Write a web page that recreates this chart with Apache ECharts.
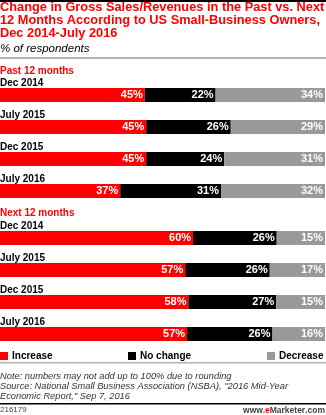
<!DOCTYPE html>
<html>
<head>
<meta charset="utf-8">
<script src="https://cdn.jsdelivr.net/npm/echarts@6/dist/echarts.min.js"></script>
<style>
  html, body { margin: 0; padding: 0; background: #fff; }
  #chart { width: 326px; height: 415px; }
</style>
</head>
<body>
<div id="chart"></div>
<script>
// Survey periods and the two question groups
const groups = ['Past 12 months', 'Next 12 months'];
const periods = ['Dec 2014', 'July 2015', 'Dec 2015', 'July 2016'];

// % of respondents, one entry per period, per group
const pastIncrease = [45, 45, 45, 37];
const pastNoChange = [22, 26, 24, 31];
const pastDecrease = [34, 29, 31, 32];
const nextIncrease = [60, 57, 58, 57];
const nextNoChange = [26, 26, 27, 26];
const nextDecrease = [15, 17, 15, 16];

const seriesNames = ['Increase', 'No change', 'Decrease'];
const colors = ['#ff0000', '#000000', '#999999'];

const FONT = '"Liberation Sans", Arial, Helvetica, sans-serif';

// Rows in drawing order: each is one stacked bar scaled to its own total
const rows = [];
[[pastIncrease, pastNoChange, pastDecrease], [nextIncrease, nextNoChange, nextDecrease]]
  .forEach((set, g) => {
    periods.forEach((p, i) => {
      rows.push({ group: g, label: p, values: set.map(arr => arr[i]) });
    });
  });

const grids = [], xAxes = [], yAxes = [], series = [];
const BAR_TOP = 88, ROW_STEP = 32, BAR_H = 14, GROUP_EXTRA = 15;

rows.forEach((row, r) => {
  const top = BAR_TOP + r * ROW_STEP + row.group * GROUP_EXTRA;
  const total = row.values.reduce((a, b) => a + b, 0);
  grids.push({
    left: 0, right: 1, top: top, height: BAR_H,
    containLabel: false, outerBoundsMode: 'none'
  });
  xAxes.push({
    type: 'value', gridIndex: r, min: 0, max: total,
    show: false
  });
  yAxes.push({
    type: 'category', gridIndex: r, data: [row.label],
    axisLine: { show: false }, axisTick: { show: false }, axisLabel: { show: false },
    splitLine: { show: false },
    name: row.label, nameLocation: 'end', nameGap: 0,
    nameTextStyle: {
      align: 'left', verticalAlign: 'bottom', fontFamily: FONT,
      fontSize: 10, fontWeight: 'bold', color: '#000', padding: 0
    }
  });
  row.values.forEach((v, k) => {
    series.push({
      name: seriesNames[k], type: 'bar', stack: 'row' + r,
      xAxisIndex: r, yAxisIndex: r,
      barWidth: BAR_H, silent: true,
      itemStyle: { color: colors[k] },
      label: {
        show: true, position: 'insideRight', distance: 2,
        formatter: '{c}%', color: '#fff', fontFamily: FONT,
        fontSize: 11, fontWeight: 'bold'
      },
      data: [v]
    });
  });
});

const legendBase = {
  top: 351, itemWidth: 8, itemHeight: 8, icon: 'rect', itemGap: 4,
  selectedMode: false, padding: 0,
  textStyle: { fontFamily: FONT, fontSize: 10, fontWeight: 'bold', color: '#000', padding: [0, 0, 0, -1] }
};

const option = {
  animation: false,
  title: [
    {
      text: 'Change in Gross Sales/Revenues in the Past vs. Next\n12 Months According to US Small-Business Owners,\nDec 2014-July 2016',
      left: 0, top: 1, padding: 0,
      textStyle: { fontFamily: FONT, fontSize: 12.8, fontWeight: 'bold', color: '#ff0000', lineHeight: 13 }
    },
    {
      text: '% of respondents', left: 0, top: 43, padding: 0,
      textStyle: { fontFamily: FONT, fontSize: 11.5, fontStyle: 'italic', fontWeight: 'normal', color: '#000' }
    },
    {
      text: groups[0], left: 0, top: 66, padding: 0,
      textStyle: { fontFamily: FONT, fontSize: 10, fontWeight: 'bold', color: '#ff0000' }
    },
    {
      text: groups[1], left: 0, top: 208, padding: 0,
      textStyle: { fontFamily: FONT, fontSize: 10, fontWeight: 'bold', color: '#ff0000' }
    },
    {
      text: 'Note: numbers may not add up to 100% due to rounding\nSource: National Small Business Association (NSBA), "2016 Mid-Year\nEconomic Report," Sep 7, 2016',
      left: 0, top: 372, padding: 0,
      textStyle: { fontFamily: FONT, fontSize: 9.3, fontStyle: 'italic', fontWeight: 'normal', color: '#333', lineHeight: 9.8 }
    },
    {
      text: '216179', left: 0, top: 406, padding: 0,
      textStyle: { fontFamily: FONT, fontSize: 8, fontWeight: 'normal', color: '#444' }
    },
    {
      text: '{a|www.}{e|e}{b|Marketer}{a|.com}', right: 1, top: 406, padding: 0,
      textStyle: {
        rich: {
          a: { fontFamily: FONT, fontSize: 8.5, color: '#444' },
          e: { fontFamily: FONT, fontSize: 8.5, fontWeight: 'bold', color: '#ff0000' },
          b: { fontFamily: FONT, fontSize: 8.5, fontWeight: 'bold', color: '#444' }
        }
      }
    }
  ],
  legend: [
    Object.assign({}, legendBase, { left: 0, data: ['Increase'] }),
    Object.assign({}, legendBase, { left: 128, data: ['No change'] }),
    Object.assign({}, legendBase, { left: 267, data: ['Decrease'] })
  ],
  grid: grids,
  xAxis: xAxes,
  yAxis: yAxes,
  series: series,
  graphic: [
    { type: 'rect', shape: { x: 0, y: 0, width: 326, height: 2 }, style: { fill: '#000' } },
    { type: 'rect', shape: { x: 0, y: 57, width: 326, height: 2 }, style: { fill: '#b3b3b3' } },
    { type: 'rect', shape: { x: 0, y: 362, width: 326, height: 1.5 }, style: { fill: '#b3b3b3' } },
    { type: 'rect', shape: { x: 0, y: 403, width: 326, height: 1.5 }, style: { fill: '#000' } }
  ]
};

const chart = echarts.init(document.getElementById('chart'), null, { renderer: 'canvas' });
chart.setOption(option);
</script>
</body>
</html>
